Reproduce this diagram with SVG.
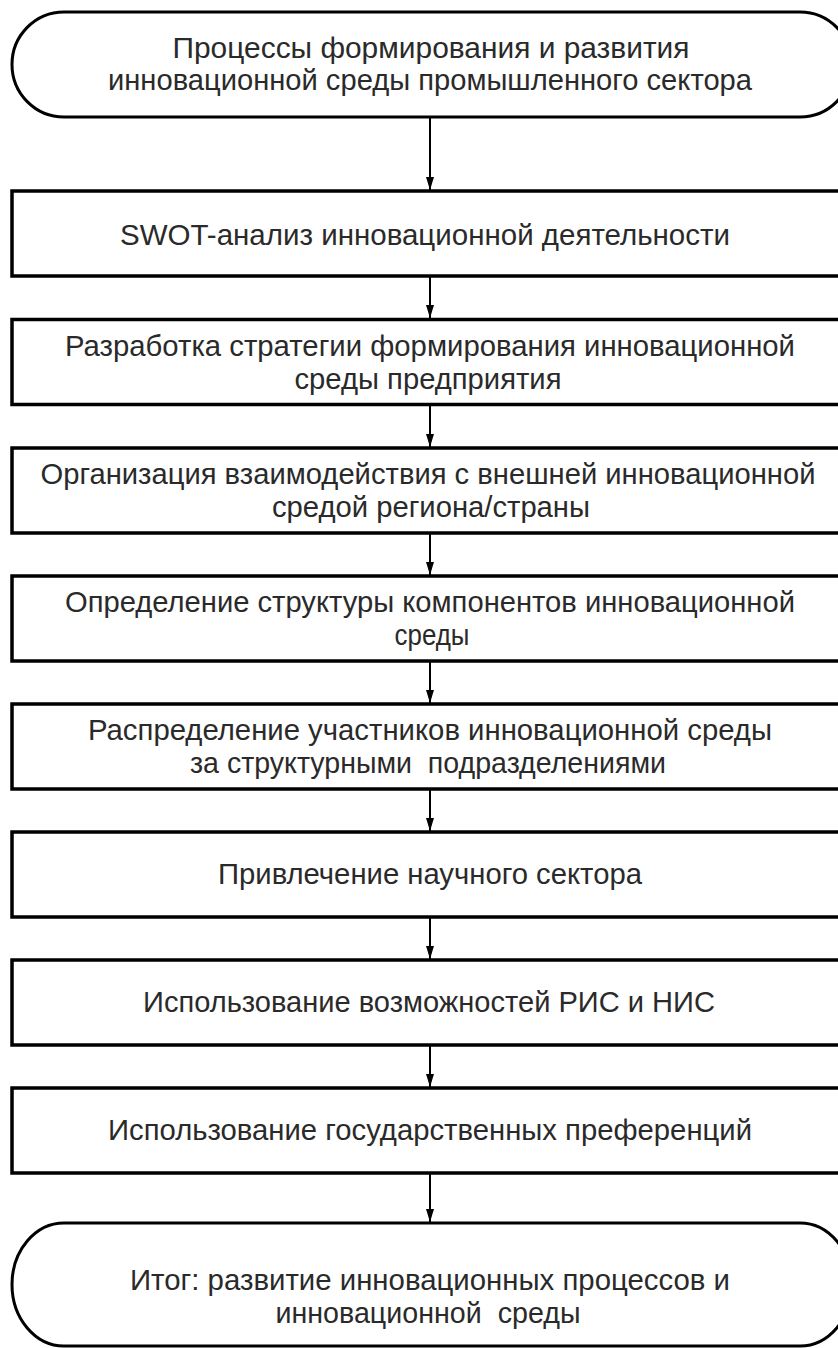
<svg xmlns="http://www.w3.org/2000/svg" width="838" height="1348" viewBox="0 0 838 1348">
<defs>
<style>
.box{fill:#fff;stroke:#000;stroke-width:3.5}
.term{fill:#fff;stroke:#000;stroke-width:3}
.t{font-family:"Liberation Sans",Arial,sans-serif;font-size:29px;fill:#2a2a2a;text-anchor:middle;dominant-baseline:central}
.c{stroke:#000;stroke-width:2;fill:none;marker-end:url(#ah)}
</style>
<marker id="ah" markerWidth="13" markerHeight="8" refX="13" refY="4" orient="auto" markerUnits="userSpaceOnUse" viewBox="0 0 13 8">
<path d="M0,0 L13,4 L0,8 Z" fill="#000"/>
</marker>
</defs>
<rect width="838" height="1348" fill="#fff"/>
<g id="connectors">
<line class="c" x1="430" y1="117" x2="430" y2="190"/>
<line class="c" x1="430" y1="276" x2="430" y2="318"/>
<line class="c" x1="430" y1="404" x2="430" y2="447"/>
<line class="c" x1="430" y1="533" x2="430" y2="575"/>
<line class="c" x1="430" y1="661" x2="430" y2="703"/>
<line class="c" x1="430" y1="789" x2="430" y2="831"/>
<line class="c" x1="430" y1="917" x2="430" y2="959"/>
<line class="c" x1="430" y1="1045" x2="430" y2="1087"/>
<line class="c" x1="430" y1="1173" x2="430" y2="1222"/>
</g>
<g id="start">
<path class="term" d="M64,12 H800 A52,52.5 0 0 1 800,117 H64 A52,52.5 0 0 1 64,12 Z"/>
<text class="t" x="431" y="48" textLength="517" lengthAdjust="spacingAndGlyphs">Процессы формирования и развития</text>
<text class="t" x="430" y="80" textLength="644" lengthAdjust="spacingAndGlyphs">инновационной среды промышленного сектора</text>
</g>
<g id="n1">
<rect class="box" x="12" y="191" width="840" height="85"/>
<text class="t" x="425" y="235" textLength="610" lengthAdjust="spacingAndGlyphs">SWOT-анализ инновационной деятельности</text>
</g>
<g id="n2">
<rect class="box" x="12" y="319.5" width="840" height="85"/>
<text class="t" x="430" y="346" textLength="730" lengthAdjust="spacingAndGlyphs">Разработка стратегии формирования инновационной</text>
<text class="t" x="428" y="379" textLength="267" lengthAdjust="spacingAndGlyphs">среды предприятия</text>
</g>
<g id="n3">
<rect class="box" x="12" y="448" width="840" height="85"/>
<text class="t" x="428" y="474" textLength="775" lengthAdjust="spacingAndGlyphs">Организация взаимодействия с внешней инновационной</text>
<text class="t" x="431" y="507" textLength="318" lengthAdjust="spacingAndGlyphs">средой региона/страны</text>
</g>
<g id="n4">
<rect class="box" x="12" y="576" width="840" height="85"/>
<text class="t" x="430" y="602" textLength="730" lengthAdjust="spacingAndGlyphs">Определение структуры компонентов инновационной</text>
<text class="t" x="432" y="635" textLength="75" lengthAdjust="spacingAndGlyphs">среды</text>
</g>
<g id="n5">
<rect class="box" x="12" y="704" width="840" height="85"/>
<text class="t" x="430" y="730" textLength="684" lengthAdjust="spacingAndGlyphs">Распределение участников инновационной среды</text>
<text class="t" x="428" y="763" textLength="476" lengthAdjust="spacingAndGlyphs" xml:space="preserve">за структурными  подразделениями</text>
</g>
<g id="n6">
<rect class="box" x="12" y="832" width="840" height="85"/>
<text class="t" x="430" y="874" textLength="424" lengthAdjust="spacingAndGlyphs">Привлечение научного сектора</text>
</g>
<g id="n7">
<rect class="box" x="12" y="960" width="840" height="85"/>
<text class="t" x="429" y="1002" textLength="572" lengthAdjust="spacingAndGlyphs">Использование возможностей РИС и НИС</text>
</g>
<g id="n8">
<rect class="box" x="12" y="1088" width="840" height="85"/>
<text class="t" x="430" y="1130" textLength="644" lengthAdjust="spacingAndGlyphs">Использование государственных преференций</text>
</g>
<g id="end">
<path class="term" d="M64,1223 H800 A52,61.5 0 0 1 800,1346 H64 A52,61.5 0 0 1 64,1223 Z"/>
<text class="t" x="430" y="1280" textLength="600" lengthAdjust="spacingAndGlyphs">Итог: развитие инновационных процессов и</text>
<text class="t" x="428" y="1313" textLength="305" lengthAdjust="spacingAndGlyphs" xml:space="preserve">инновационной  среды</text>
</g>
</svg>
